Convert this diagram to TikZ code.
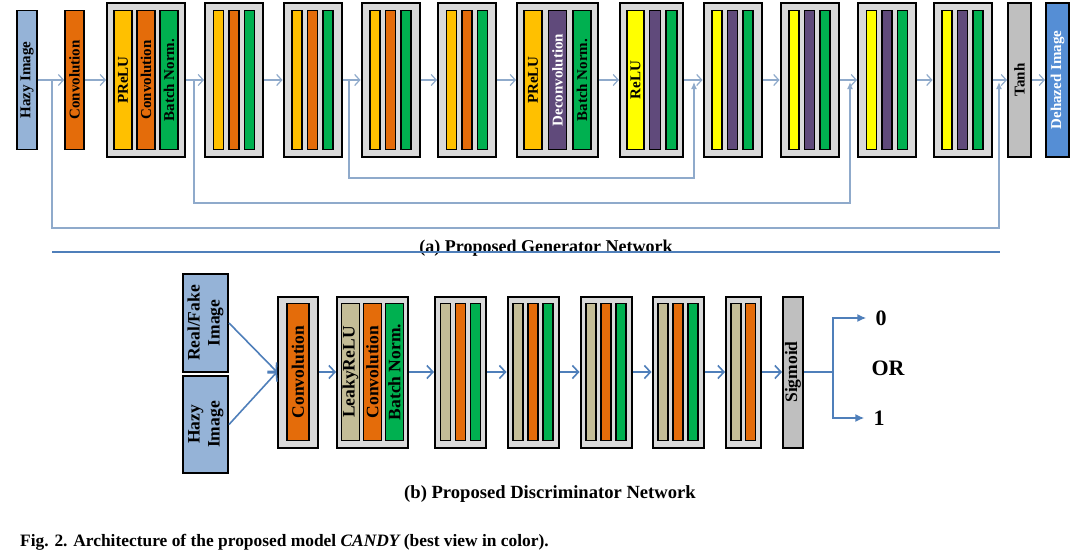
\documentclass[tikz,border=0pt]{standalone}
\usepackage{fontspec}
\setmainfont{Liberation Serif}
\usetikzlibrary{arrows.meta}
\definecolor{hazyblue}{HTML}{95B3D7}
\definecolor{convorange}{HTML}{E46C0A}
\definecolor{preluamber}{HTML}{FFC000}
\definecolor{bngreen}{HTML}{00B050}
\definecolor{deconvpurple}{HTML}{604A7B}
\definecolor{reluyellow}{HTML}{FFFF00}
\definecolor{blkgray}{HTML}{D9D9D9}
\definecolor{actgray}{HTML}{BFBFBF}
\definecolor{dehazeblue}{HTML}{558ED5}
\definecolor{leakytan}{HTML}{C4BD97}
\definecolor{genline}{HTML}{8FAACB}
\definecolor{disline}{HTML}{4F7FBA}
\newcommand{\vt}[1]{\rotatebox{90}{#1}}
\tikzset{
  blk/.style={draw=black, line width=2pt, fill=blkgray, inner sep=0pt, minimum width=#1, minimum height=154pt},
  dblk/.style={draw=black, line width=2pt, fill=blkgray, inner sep=0pt, minimum width=#1, minimum height=151pt},
  bar/.style={draw=black, line width=1.6pt, fill=#1, inner sep=0pt, minimum height=139pt, font=\bfseries\fontsize{15}{15}\selectfont},
  dbar/.style={draw=black, line width=1.5pt, fill=#1, inner sep=0pt, minimum height=137pt, font=\bfseries\fontsize{17.5}{20}\selectfont},
  genarrow/.style={draw=genline, line width=1.2pt, -{Straight Barb[length=5pt,width=11pt]}},
  skiparrow/.style={draw=genline, line width=1.2pt, -{Latex[length=7pt,width=6pt]}},
  disarrow/.style={draw=disline, line width=1.6pt, -{Straight Barb[length=6pt,width=13pt]}},
  outarrow/.style={draw=disline, line width=1.6pt, -{Latex[length=9pt,width=8pt]}},
  capt/.style={font=\bfseries\fontsize{#1}{#1}\selectfont, inner sep=0pt, anchor=base}
}
\begin{document}
\begin{tikzpicture}[x=1pt,y=-1pt]
\fill[white] (0,0) rectangle (1080,557);
\useasboundingbox (0,0) rectangle (1080,557);

% generator
\node[bar=hazyblue, minimum width=20pt] (ghazy) at (27,80) {\vt{Hazy Image}};
\node[bar=convorange, minimum width=19pt] (gconv) at (74.5,80) {\vt{Convolution}};
\node[blk=78pt] (g1) at (146,80) {};
\node[bar=preluamber, minimum width=18pt] (g1-1) at (123,80) {\vt{PReLU}};
\node[bar=convorange, minimum width=18pt] (g1-2) at (146,80) {\vt{Convolution}};
\node[bar=bngreen, minimum width=18pt] (g1-3) at (169,80) {\vt{Batch Norm.}};
\foreach \cx/\nm in {234/g2, 312.5/g3, 390.5/g4, 467/g5}{
  \node[blk=58pt] (\nm) at (\cx,80) {};
  \node[bar=preluamber, minimum width=10pt] (\nm-1) at (\cx-15.5,80) {};
  \node[bar=convorange, minimum width=10pt] (\nm-2) at (\cx,80) {};
  \node[bar=bngreen, minimum width=10pt] (\nm-3) at (\cx+15.5,80) {};
}
\node[blk=81pt] (g6) at (557.5,80) {};
\node[bar=preluamber, minimum width=18pt] (g6-1) at (533,80) {\vt{PReLU}};
\node[bar=deconvpurple, minimum width=18pt, text=white] (g6-2) at (557.5,80) {\vt{Deconvolution}};
\node[bar=bngreen, minimum width=18pt] (g6-3) at (582,80) {\vt{Batch Norm.}};
\node[blk=63pt] (g7) at (651.5,80) {};
\node[bar=reluyellow, minimum width=17pt] (g7-1) at (635.5,80) {\vt{ReLU}};
\node[bar=deconvpurple, minimum width=11pt] (g7-2) at (655,80) {};
\node[bar=bngreen, minimum width=11pt] (g7-3) at (671.5,80) {};
\foreach \cx/\nm in {732.5/g8, 809.5/g9, 887/g10, 962.5/g11}{
  \node[blk=58pt] (\nm) at (\cx,80) {};
  \node[bar=reluyellow, minimum width=10pt] (\nm-1) at (\cx-15.5,80) {};
  \node[bar=deconvpurple, minimum width=10pt] (\nm-2) at (\cx,80) {};
  \node[bar=bngreen, minimum width=10pt] (\nm-3) at (\cx+15.5,80) {};
}
\node[bar=actgray, line width=2pt, minimum width=23pt, minimum height=154pt] (gtanh) at (1019.5,80) {\vt{Tanh}};
\node[bar=dehazeblue, line width=2pt, minimum width=23pt, minimum height=154pt, text=white] (gout) at (1057.5,80) {\vt{Dehazed Image}};

\foreach \a/\b in {ghazy/gconv, gconv/g1, g1/g2, g2/g3, g3/g4, g4/g5, g5/g6, g6/g7, g7/g8, g8/g9, g9/g10, g10/g11, g11/gtanh, gtanh/gout}
  \draw[genarrow] (\a.east) -- (\b.west);

% skip connections
\coordinate (sk1s) at (52,80);  \coordinate (sk1e) at (999,82);
\coordinate (sk2s) at (194,80); \coordinate (sk2e) at (850,82);
\coordinate (sk3s) at (349,80); \coordinate (sk3e) at (694,82);
\draw[skiparrow] (sk1s) -- ++(0,148) -| (sk1e);
\draw[skiparrow] (sk2s) -- ++(0,123) -| (sk2e);
\draw[skiparrow] (sk3s) -- ++(0,98) -| (sk3e);

\node[capt=18] (capa) at (546,252.5) {(a) Proposed Generator Network};
\draw[draw=disline, line width=1.8pt] (52,252) -- (1000,252);

% discriminator
\node[dbar=hazyblue, line width=2pt, minimum width=45pt, minimum height=98pt] (dreal) at (205.5,323) {\vt{\begin{tabular}{@{}c@{}}Real/Fake\\Image\end{tabular}}};
\node[dbar=hazyblue, line width=2pt, minimum width=45pt, minimum height=97pt] (dhazy) at (205.5,424.5) {\vt{\begin{tabular}{@{}c@{}}Hazy\\Image\end{tabular}}};
\node[dblk=40pt] (d1) at (298,372) {};
\node[dbar=convorange, minimum width=22pt] (d1-1) at (298,372) {\vt{Convolution}};
\node[dblk=71pt] (d2) at (372.5,372) {};
\node[dbar=leakytan, minimum width=18pt] (d2-1) at (350.5,372) {\vt{LeakyReLU}};
\node[dbar=convorange, minimum width=18pt] (d2-2) at (372.5,372) {\vt{Convolution}};
\node[dbar=bngreen, minimum width=18pt] (d2-3) at (394.5,372) {\vt{Batch Norm.}};
\foreach \cx/\nm in {460.5/d3, 533/d4, 606/d5, 678/d6}{
  \node[dblk=51pt] (\nm) at (\cx,372) {};
  \node[dbar=leakytan, minimum width=10pt] (\nm-1) at (\cx-15,372) {};
  \node[dbar=convorange, minimum width=10pt] (\nm-2) at (\cx,372) {};
  \node[dbar=bngreen, minimum width=10pt] (\nm-3) at (\cx+15,372) {};
}
\node[dblk=35pt] (d7) at (743.5,372) {};
\node[dbar=leakytan, minimum width=10pt] (d7-1) at (736,372) {};
\node[dbar=convorange, minimum width=10pt] (d7-2) at (750.5,372) {};
\node[dbar=actgray, line width=2pt, minimum width=20pt, minimum height=151pt] (dsig) at (793,372) {\vt{Sigmoid}};

\draw[disarrow] (dreal.east) -- (d1.west);
\draw[disarrow] (dhazy.east) -- (d1.west);
\foreach \a/\b in {d1/d2, d2/d3, d3/d4, d4/d5, d5/d6, d6/d7, d7/dsig}
  \draw[disarrow] (\a.east) -- (\b.west);

\node[font=\bfseries\fontsize{22}{22}\selectfont, inner sep=0pt] (dzero) at (881,318) {0};
\node[font=\bfseries\fontsize{22}{22}\selectfont, inner sep=0pt] (dor) at (888,368) {OR};
\node[font=\bfseries\fontsize{22}{22}\selectfont, inner sep=0pt] (done) at (879,418) {1};
\coordinate (dsplit) at (833,372);
\draw[draw=disline, line width=1.6pt] (dsig.east) -- (dsplit);
\draw[outarrow] (dsplit) |- ([xshift=-9pt]dzero.west);
\draw[outarrow] (dsplit) |- ([xshift=-9pt]done.west);

\node[capt=18.6] (capb) at (550,498) {(b) Proposed Discriminator Network};
\node[capt=17.4, anchor=base west] (capfig) at (20,546) {Fig. 2. Architecture of the proposed model \textit{CANDY}\,(best view in color).};
\end{tikzpicture}
\end{document}
